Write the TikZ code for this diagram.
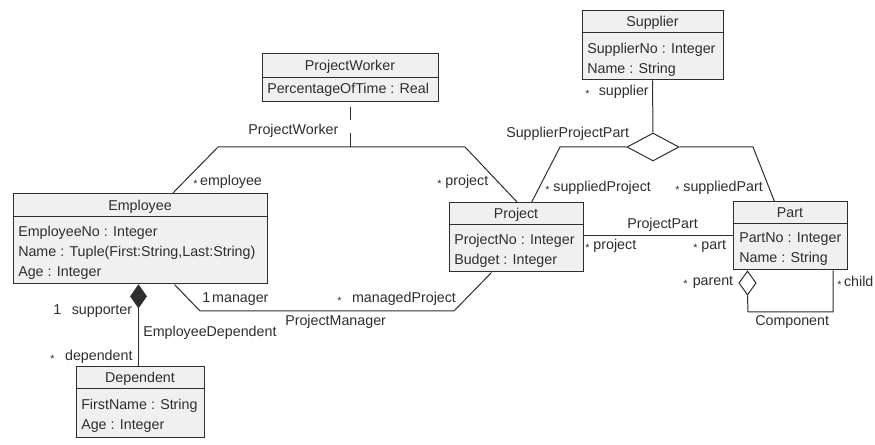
\documentclass[tikz,border=0pt]{standalone}
\usepackage{fontspec}
\setmainfont{Liberation Sans}
\usetikzlibrary{shapes.geometric,fit,calc}

\definecolor{ink}{HTML}{2E2E2E}
\definecolor{boxfill}{HTML}{F0F0F0}

% small lowered asterisk used for the "many" multiplicity
\newcommand\mstar{\raisebox{-1.3pt}{\fontsize{8}{8}\selectfont *}}

% UML class: name, left, top, right, divider, bottom, title
\newcommand\umlclass[7]{%
  \node[classbox, fit={(#2,#3) (#4,#6)}] (#1) {};
  \draw[edge] (#2,#5) -- (#4,#5);
  \node[txt] (#1-title) at ({(#2+#4)/2},{(#3+#5)/2+1}) {#7};
}

\begin{document}
\begin{tikzpicture}[x=0.75pt,y=-0.75pt,
  edge/.style={draw=ink, line width=0.75pt},
  classbox/.style={draw=ink, fill=boxfill, line width=0.75pt, inner sep=0pt},
  txt/.style={inner sep=0pt, text=ink, font=\fontsize{10.7}{13}\selectfont,
    text height=7.6pt, text depth=2.2pt},
  attr/.style={txt, anchor=west},
  lbl/.style={txt, anchor=west},
  hollowdiamond/.style={diamond, draw=ink, fill=white, line width=0.75pt, inner sep=0pt},
  soliddiamond/.style={diamond, draw=ink, fill=ink, line width=0.75pt, inner sep=0pt}]

\path[use as bounding box, fill=white] (0,0) rectangle (875,445);

% ---------- classes ----------
\umlclass{pw}{262}{54}{438}{78}{102}{ProjectWorker}
\node[attr] (pw-a1) at (267,90) {PercentageOfTime : Real};

\umlclass{sup}{582}{11}{723}{33}{80}{Supplier}
\node[attr] (sup-a1) at (587,50) {SupplierNo : Integer};
\node[attr] (sup-a2) at (587,70) {Name : String};

\umlclass{emp}{13}{194}{267}{217}{284}{Employee}
\node[attr] (emp-a1) at (18,233) {EmployeeNo : Integer};
\node[attr] (emp-a2) at (18,253) {Name : Tuple(First:String,Last:String)};
\node[attr] (emp-a3) at (18,273) {Age : Integer};

\umlclass{proj}{449}{203}{583}{225}{272}{Project}
\node[attr] (proj-a1) at (454,241) {ProjectNo : Integer};
\node[attr] (proj-a2) at (454,261) {Budget : Integer};

\umlclass{part}{733}{202}{847}{224}{270}{Part}
\node[attr] (part-a1) at (739,239) {PartNo : Integer};
\node[attr] (part-a2) at (739,259) {Name : String};

\umlclass{dep}{76}{367}{204}{389}{437}{Dependent}
\node[attr] (dep-a1) at (81,406) {FirstName : String};
\node[attr] (dep-a2) at (81,426) {Age : Integer};

% ---------- ProjectWorker (association class) ----------
\coordinate (pw-l) at (218,147);
\coordinate (pw-r) at (465,147);
\coordinate (pw-mid) at (350,147);
\draw[edge] ($(emp.north west)+(160,0)$) -- (pw-l) -- (pw-r) -- ($(proj.north west)+(69,0)$);
\draw[edge, dash pattern=on 0pt off 3.75pt on 9.75pt off 9.75pt on 12pt off 30pt]
  (pw.south) -- (pw-mid);
\node[lbl] (pw-name) at (248,131) {ProjectWorker};
\node[lbl] (pw-emp) at (193,182) {\mstar\hspace{2pt}employee};
\node[lbl] (pw-proj) at (437,182) {\mstar\hspace{3pt}project};

% ---------- SupplierProjectPart (ternary) ----------
\node[hollowdiamond, minimum width=39pt, minimum height=21pt] (spp) at (653,147) {};
\coordinate (spp-l) at (560,147);
\coordinate (spp-r) at (753,147);
\draw[edge] (sup.south) -- (spp.north);
\draw[edge] (spp.west) -- (spp-l) -- ($(proj.north west)+(83,0)$);
\draw[edge] (spp.east) -- (spp-r) -- ($(part.north west)+(42,0)$);
\node[lbl] (spp-name) at (506,134) {SupplierProjectPart};
\node[lbl] (spp-sup) at (585,92) {\mstar\hspace{7pt}supplier};
\node[lbl] (spp-proj) at (545,188) {\mstar\hspace{3pt}suppliedProject};
\node[lbl] (spp-part) at (675,188) {\mstar\hspace{3pt}suppliedPart};

% ---------- ProjectPart ----------
\draw[edge] (proj.east |- part.west) -- (part.west);
\node[lbl] (pp-name) at (627,225) {ProjectPart};
\node[lbl] (pp-proj) at (585,246) {\mstar\hspace{3pt}project};
\node[lbl] (pp-part) at (693,246) {\mstar\hspace{3pt}part};

% ---------- ProjectManager ----------
\coordinate (pm-l) at (200,311);
\coordinate (pm-r) at (454,311);
\draw[edge] ($(emp.south west)+(162,0)$) -- (pm-l) -- (pm-r) -- ($(proj.south west)+(43,0)$);
\node[lbl] (pm-mgr) at (202,299) {1\hspace{1.5pt}manager};
\node[lbl] (pm-proj) at (337,299) {\mstar\hspace{8pt}managedProject};
\node[lbl] (pm-name) at (285,322) {ProjectManager};

% ---------- EmployeeDependent (composition) ----------
\node[soliddiamond, minimum width=12pt, minimum height=17pt, anchor=north]
  (ed) at ($(emp.south west)+(126,0)$) {};
\draw[edge] (ed.south) -- (ed.south |- dep.north);
\node[lbl] (ed-sup) at (53,311) {1\hspace{8pt}supporter};
\node[lbl] (ed-name) at (143,333) {EmployeeDependent};
\node[lbl] (ed-dep) at (50,357) {\mstar\hspace{8pt}dependent};

% ---------- Component (aggregation on Part) ----------
\node[hollowdiamond, minimum width=13pt, minimum height=18pt, anchor=north]
  (cmp) at ($(part.south west)+(15,0)$) {};
\coordinate (cmp-l) at (748,312);
\coordinate (cmp-r) at (833,312);
\draw[edge] (cmp.south) -- (cmp-l) -- (cmp-r) -- (cmp-r |- part.south);
\node[lbl] (cmp-parent) at (683,282) {\mstar\hspace{4pt}parent};
\node[lbl] (cmp-child) at (837,283) {\mstar\hspace{2pt}child};
\node[lbl] (cmp-name) at (755,322) {Component};

\end{tikzpicture}
\end{document}
